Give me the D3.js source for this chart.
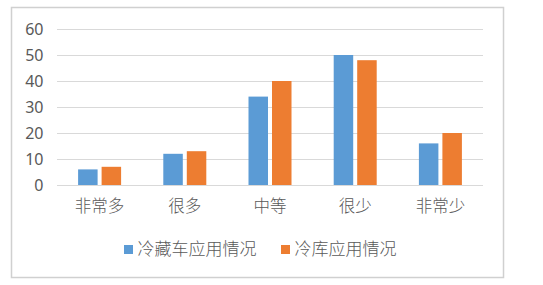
<!DOCTYPE html>
<html><head><meta charset="utf-8">
<script src="https://cdn.jsdelivr.net/npm/d3@7"></script>
<style>body{margin:0;background:#fff}svg{display:block}</style>
</head><body>
<script>
const categories = ["非常多","很多","中等","很少","非常少"];
const seriesNames = ["冷藏车应用情况","冷库应用情况"];
const coldTruck = [6,12,34,50,16];
const coldStore = [7,13,40,48,20];
const yTicks = [0,10,20,30,40,50,60];
const colors = ["#5B9BD5","#ED7D31"];

(function(){
const W=543,H=285;
const svg=d3.select("body").append("svg").attr("width",W).attr("height",H);
svg.append("rect").attr("x",11.5).attr("y",7.5).attr("width",492).attr("height",270)
  .attr("fill","#fff").attr("stroke","#d0d0d0").attr("stroke-width",1.5);

const pl=57,pr=483,pt=29,pb=185;
const x=d3.scaleBand().domain(categories).range([pl,pr]).paddingInner(0).paddingOuter(0);
const y=d3.scaleLinear().domain([0,60]).range([pb,pt]);

const g=svg.append("g");
g.selectAll("line.grid").data(yTicks).join("line")
  .attr("x1",pl).attr("x2",pr).attr("y1",d=>Math.round(y(d))+0.5).attr("y2",d=>Math.round(y(d))+0.5)
  .attr("stroke","#d9d9d9").attr("stroke-width",1.2);

const yAxis=d3.axisLeft(y).tickValues(yTicks).tickSize(0).tickPadding(0);
const ya=svg.append("g").attr("transform",`translate(43.5,0)`).call(yAxis);
ya.select(".domain").remove();
ya.selectAll("text").attr("font-family","'Noto Sans','Noto Sans CJK SC',sans-serif").attr("font-size",16).attr("fill","#595959");

const bw=19.5, gap=4;
const sub=d3.scaleOrdinal().domain([0,1]).range([-(bw+gap/2), gap/2]);
const data=[coldTruck,coldStore];
data.forEach((vals,si)=>{
  g.selectAll("rect.s"+si).data(vals).join("rect").attr("class","s"+si)
   .attr("x",(d,i)=>x(categories[i])+x.bandwidth()/2+sub(si))
   .attr("width",bw)
   .attr("y",d=>y(d)).attr("height",d=>y(0)-y(d))
   .attr("fill",colors[si]);
});

const xAxis=d3.axisBottom(x).tickSize(0).tickPadding(0);
const xa=svg.append("g").attr("transform",`translate(0,${pb+15})`).call(xAxis);
xa.select(".domain").remove();
xa.selectAll("text").attr("font-family","'Noto Sans CJK SC',sans-serif").attr("font-weight",300).attr("font-size",16.5).attr("fill","#595959");

const legendX=[124,281];
const lg=svg.append("g");
seriesNames.forEach((n,i)=>{
  lg.append("rect").attr("x",legendX[i]).attr("y",245).attr("width",9).attr("height",9).attr("fill",colors[i]);
  lg.append("text").attr("x",legendX[i]+13.5).attr("y",249.5).attr("dy","0.35em")
    .attr("font-family","'Noto Sans CJK SC',sans-serif").attr("font-weight",300).attr("font-size",17).attr("fill","#595959").text(n);
});
})();
</script>
</body></html>
